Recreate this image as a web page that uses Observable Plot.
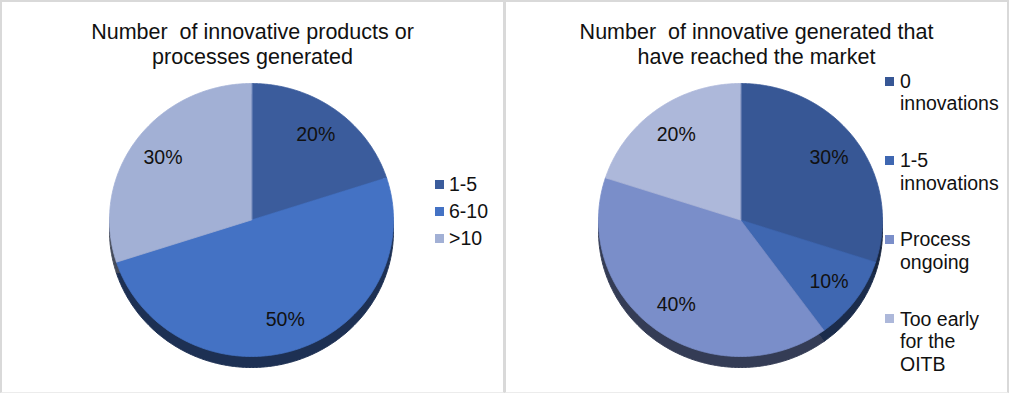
<!DOCTYPE html>
<html><head><meta charset="utf-8">
<script src="https://cdn.jsdelivr.net/npm/d3@7"></script>
<script src="https://cdn.jsdelivr.net/npm/@observablehq/plot@0.6"></script>
<style>
body{margin:0;background:#fff;font-family:"Liberation Sans",Arial,sans-serif;color:#111;}
.panel{position:absolute;top:0;height:393px;width:505px;box-sizing:border-box;border:2px solid #d9d9d9;border-bottom:1px solid #ececec;background:#fff;}
.title{position:absolute;left:0;right:0;top:17.5px;text-align:center;font-size:21.5px;line-height:25px;white-space:pre;}
.chart{position:absolute;left:0;top:0;}
.leg{position:absolute;font-size:19.5px;line-height:22.5px;}
.sw{position:absolute;width:9px;height:9px;}
</style></head><body>
<div id="p1" class="panel" style="left:0"></div>
<div id="p2" class="panel" style="left:504px"></div>
<script>
// ---- data ----
const leftTitle = ["Number  of innovative products or", "processes generated"];
const leftCategories = ["1-5", "6-10", ">10"];
const leftValues = [20, 50, 30];
const leftColors = ["#3b5c9c", "#4472c4", "#a2b0d5"];

const rightTitle = ["Number  of innovative generated that", "have reached the market"];
const rightCategories = ["0 innovations", "1-5 innovations", "Process ongoing", "Too early for the OITB"];
const rightValues = [30, 10, 40, 20];
const rightColors = ["#375795", "#3f67b1", "#7a8ec9", "#adb8da"];

// ---- drawing ----
function drawPanel(id, titleLines, cats, vals, colors, L) {
  const panel = document.getElementById(id);
  const W = 501, H = 390;
  const total = d3.sum(vals);
  const slices = [];
  const shadows = [];
  const labels = [];
  let a = 0;
  cats.forEach((c, i) => {
    const a0 = a, a1 = a + vals[i] / total * 2 * Math.PI;
    a = a1;
    const n = Math.max(2, Math.ceil((a1 - a0) / 0.01));
    const pts = [{cat: c, x: 0, y: 0}];
    for (let k = 0; k <= n; k++) {
      const t = a0 + (a1 - a0) * k / n;
      pts.push({cat: c, x: Math.sin(t), y: Math.cos(t)});
    }
    slices.push(...pts);
    shadows.push({color: d3.color(colors[i]).darker(2.4).formatHex(),
                  pts: pts.map(p => ({x: p.x, y: p.y - L.depth / L.ry}))});
    const m = (a0 + a1) / 2;
    labels.push({text: vals[i] + "%", x: L.lr * Math.sin(m), y: L.lr * Math.cos(m)});
  });

  const marks = [];
  shadows.forEach(s => marks.push(Plot.line(s.pts, {x: "x", y: "y", fill: s.color, stroke: s.color, strokeWidth: 1, curve: "linear-closed"})));
  marks.push(Plot.line(slices, {x: "x", y: "y", z: "cat", fill: "cat", stroke: "cat", strokeWidth: 0.8, curve: "linear-closed"}));
  marks.push(Plot.text(labels, {x: "x", y: "y", text: "text", fontSize: 19.5, fill: "#111", fontFamily: "Liberation Sans, Arial, sans-serif"}));

  const chart = Plot.plot({
    width: W, height: H, margin: 0,
    style: {background: "transparent", fontFamily: "Liberation Sans, Arial, sans-serif"},
    x: {domain: [-L.cx / L.rx, (W - L.cx) / L.rx], axis: null},
    y: {domain: [(L.cy - H) / L.ry, L.cy / L.ry], axis: null},
    color: {domain: cats, range: colors},
    marks
  });
  chart.classList.add("chart");
  panel.appendChild(chart);

  const t = document.createElement("div");
  t.className = "title";
  t.textContent = titleLines.join("\n");
  panel.appendChild(t);

  cats.forEach((c, i) => {
    const cy = L.legTop + L.legStep * i;
    const sw = document.createElement("div");
    sw.className = "sw";
    sw.style.left = L.swX + "px";
    sw.style.top = (cy - 4.5) + "px";
    sw.style.background = colors[i];
    panel.appendChild(sw);
    const tx = document.createElement("div");
    tx.className = "leg";
    tx.style.left = L.txX + "px";
    tx.style.top = (cy - 11.25) + "px";
    tx.style.width = L.txW + "px";
    tx.textContent = c;
    panel.appendChild(tx);
  });
}

drawPanel("p1", leftTitle, leftCategories, leftValues, leftColors,
  {cx: 249, cy: 217.5, rx: 142, ry: 136.5, depth: 11, lr: 0.77,
   legTop: 182, legStep: 27, swX: 433, txX: 447, txW: 60});
drawPanel("p2", rightTitle, rightCategories, rightValues, rightColors,
  {cx: 234, cy: 217.5, rx: 142, ry: 136.5, depth: 11, lr: 0.77,
   legTop: 79, legStep: 79.3, swX: 379, txX: 394, txW: 100});
</script>
</body></html>
